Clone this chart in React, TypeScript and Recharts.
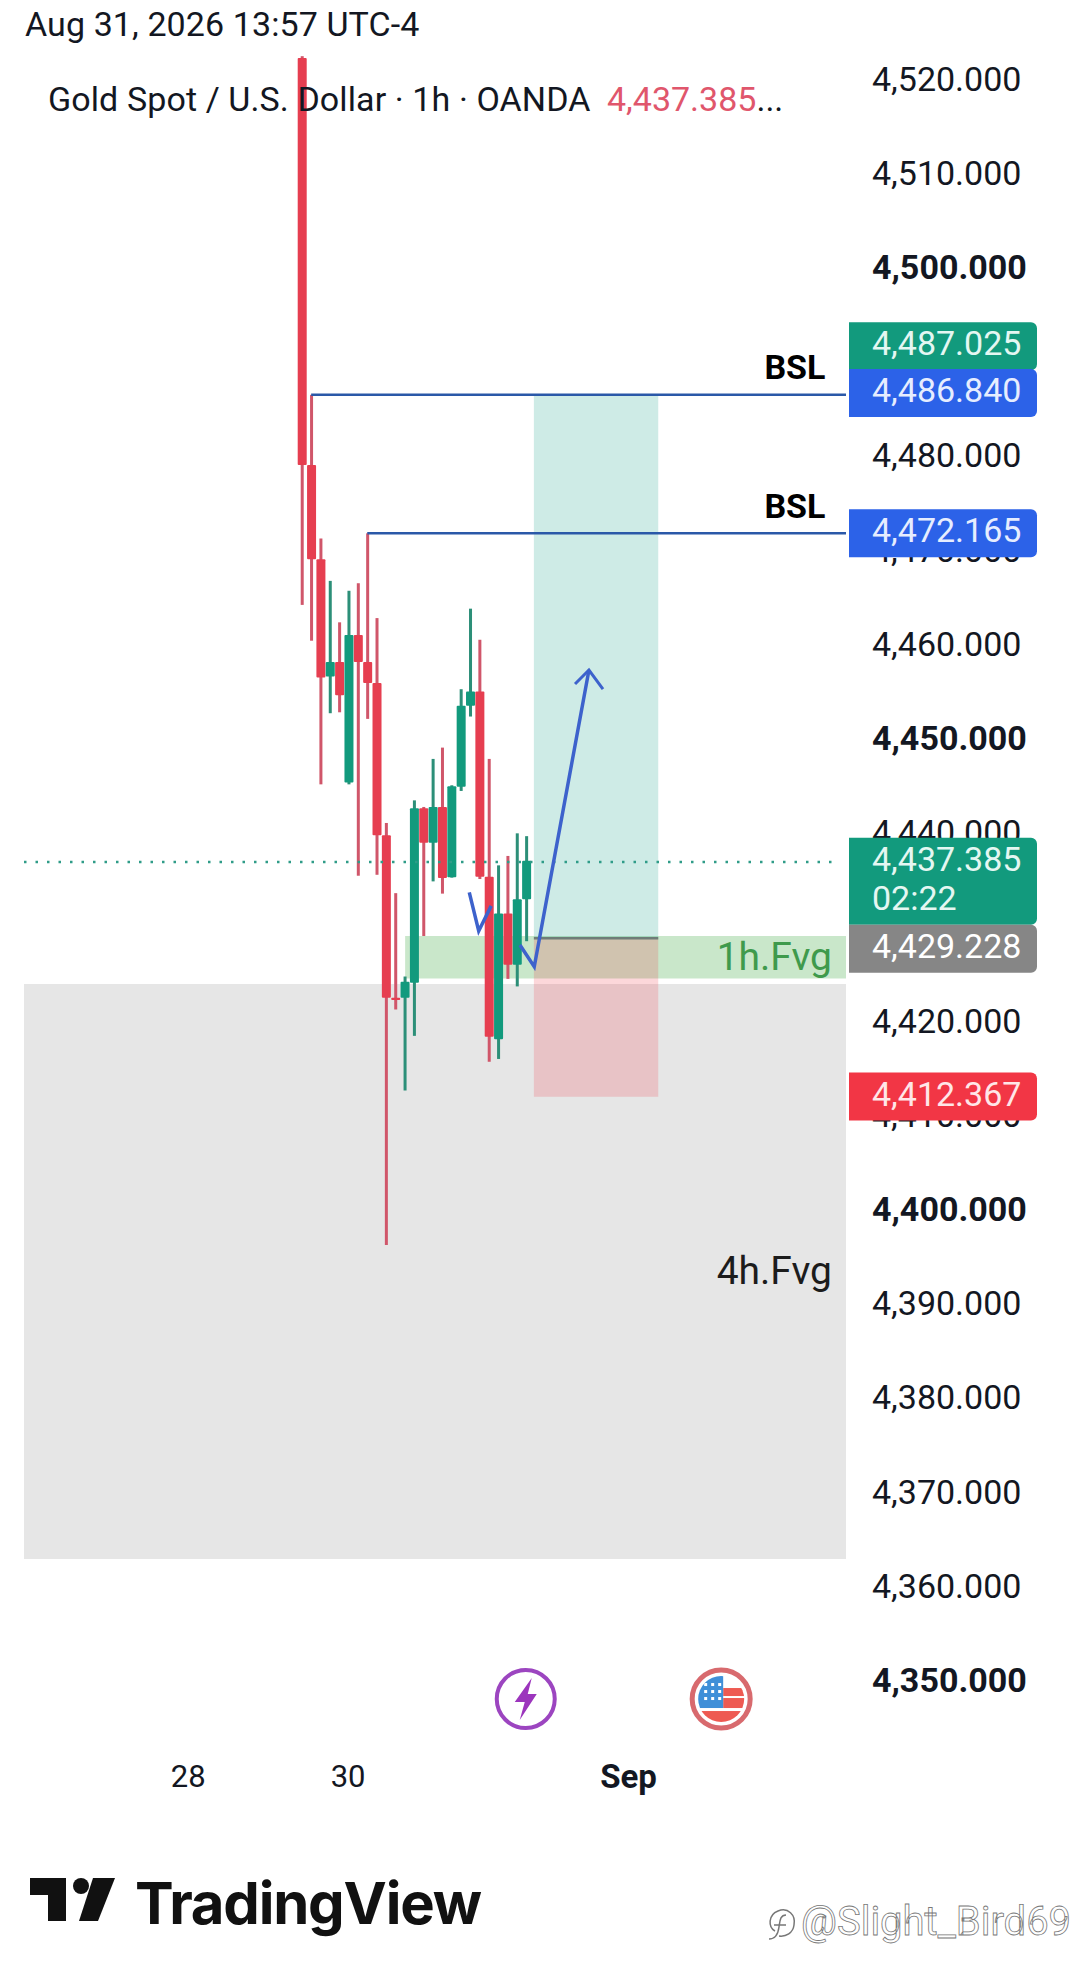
import { ComposedChart, Bar, Line, XAxis, YAxis, ReferenceArea, ReferenceLine, ReferenceDot } from 'recharts';

const candleOpen = [4522.5, 4479.3, 4469.3, 4456.85, 4458.4, 4445.6, 4461.25, 4458.4, 4456.15, 4440.0, 4422.75, 4422.75, 4424.35, 4442.85, 4439.2, 4443.0, 4435.55, 4445.15, 4453.75, 4455.25, 4435.6, 4418.35, 4431.7, 4426.25, 4433.2];
const candleHigh = [4522.7, 4486.75, 4471.5, 4467.0, 4462.6, 4465.95, 4466.75, 4472.05, 4463.05, 4441.3, 4433.85, 4425.0, 4443.7, 4443.0, 4448.1, 4449.3, 4445.3, 4455.5, 4464.05, 4460.75, 4448.1, 4436.8, 4437.8, 4440.2, 4439.9];
const candleLow = [4464.45, 4460.65, 4445.4, 4452.95, 4453.05, 4445.4, 4435.7, 4452.35, 4435.8, 4396.5, 4421.5, 4412.9, 4418.7, 4429.3, 4435.1, 4433.8, 4435.5, 4444.7, 4452.6, 4435.35, 4415.95, 4416.25, 4424.75, 4423.95, 4428.75];
const candleClose = [4479.3, 4469.3, 4456.75, 4458.4, 4454.85, 4461.25, 4458.4, 4456.15, 4440.0, 4422.75, 4422.5, 4424.45, 4442.85, 4439.2, 4443.0, 4435.45, 4445.2, 4453.75, 4455.25, 4435.6, 4418.6, 4431.7, 4426.25, 4433.2, 4437.3];

const priceTicks = [4350, 4360, 4370, 4380, 4390, 4400, 4410, 4420, 4440, 4450, 4460, 4470, 4480, 4500, 4510, 4520];
const boldPrices = [4350, 4400, 4450, 4500];
const dateTicks = [-12.2, 4.9, 34.9];
const dateLabels = ['28', '30', 'Sep'];

// the arrow runs behind the last candles, so it is two separate pieces
const arrowStart = [
  { i: 17.86, price: 4433.94 },
  { i: 18.87, price: 4429.83 },
  { i: 20.2, price: 4432.5 },
];
const arrowEnd = [
  { i: 23.28, price: 4428.34 },
  { i: 24.81, price: 4426.04 },
  { i: 30.66, price: 4457.54 },
];
const arrowHead = [
  { i: 29.17, price: 4456.05 },
  { i: 30.66, price: 4457.54 },
  { i: 32.16, price: 4455.52 },
];

const UP = '#129a7d';
const DOWN = '#e63e50';
const X_MIN = -29.76;
const X_MAX = 58.15;
const Y_DOMAIN = [4343.42, 4522.72];
const FONT = 'Roboto, sans-serif';

const chartData = candleOpen.map((open, i) => ({
  i,
  open,
  close: candleClose[i],
  range: [candleLow[i], candleHigh[i]],
}));

function Candle(props: any) {
  const { x, y, width, height, payload } = props;
  const [low, high] = payload.range;
  const perUnit = height / (high - low);
  const cx = x + width / 2;
  const up = payload.close >= payload.open;
  const top = y + (high - Math.max(payload.open, payload.close)) * perUnit;
  const bottom = y + (high - Math.min(payload.open, payload.close)) * perUnit;
  return (
    <g>
      <rect x={cx - 1.5} y={y} width={3} height={height} fill={up ? '#2c8f78' : '#d0566a'} />
      <rect x={cx - 4.5} y={top} width={9} height={Math.max(bottom - top, 2)} rx={1} fill={up ? UP : DOWN} />
    </g>
  );
}

function PriceTick(props: any) {
  const { y, payload } = props;
  const bold = boldPrices.includes(payload.value);
  return (
    <text x={872} y={y - 3} dominantBaseline="central" fontFamily={FONT} fontSize={34} fontWeight={bold ? 700 : 400} fill="#131722">
      {payload.value.toLocaleString('en-US', { minimumFractionDigits: 3 })}
    </text>
  );
}

function DateTick(props: any) {
  const { x, payload, index } = props;
  const bold = dateLabels[index] === 'Sep';
  return (
    <text x={x} y={1776} textAnchor="middle" dominantBaseline="central" fontFamily={FONT} fontSize={bold ? 33 : 31} fontWeight={bold ? 700 : 400} fill="#131722">
      {dateLabels[index] ?? payload.value}
    </text>
  );
}

const badge = (text: string, fill: string, top: number, h: number, sub?: string, color = '#e4f7f2') => (props: any) => {
  const { cy } = props;
  const y = cy + top;
  const x = 849;
  return (
    <g>
      <path d={`M${x} ${y}H1031a6 6 0 0 1 6 6V${y + h - 6}a6 6 0 0 1 -6 6H${x}Z`} fill={fill} />
      <text x={872} y={y + 21} dominantBaseline="central" fontFamily={FONT} fontSize={34} fill={color}>{text}</text>
      {sub && <text x={872} y={y + 60} dominantBaseline="central" fontFamily={FONT} fontSize={34} fill={color}>{sub}</text>}
    </g>
  );
};

function BoltIcon(props: any) {
  const { cx, cy } = props;
  return (
    <g>
      <circle cx={cx} cy={cy} r={29} fill="#fff" stroke="#9c45c0" strokeWidth={4} />
      <path d={`M${cx + 6} ${cy - 21}L${cx - 11} ${cy + 3}H${cx - 1}L${cx - 6} ${cy + 21}L${cx + 11} ${cy - 5}H${cx + 2}Z`} fill="#9c35bd" />
    </g>
  );
}

function FlagIcon(props: any) {
  const { cx, cy } = props;
  return (
    <g>
      <clipPath id="flagClip"><circle cx={cx} cy={cy} r={23} /></clipPath>
      <circle cx={cx} cy={cy} r={29} fill="#fff" stroke="#d86a6e" strokeWidth={5} />
      <g clipPath="url(#flagClip)">
        <rect x={cx - 24} y={cy - 24} width={48} height={48} fill="#fff" />
        <rect x={cx + 2} y={cy - 11} width={24} height={8} fill="#ee5a52" />
        <rect x={cx + 2} y={cy - 1} width={24} height={10} fill="#ee5a52" />
        <rect x={cx - 24} y={cy + 12} width={48} height={14} fill="#ee5a52" />
        <rect x={cx - 24} y={cy - 24} width={26} height={33} fill="#3f8fd8" />
        {[-14, -7, 0].map(dy => [-17, -10, -3].map(dx => (
          <rect key={`${dx}${dy}`} x={cx + dx} y={cy + dy - 2} width={3} height={3} fill="#fff" />
        )))}
      </g>
    </g>
  );
}

const textLabel = (text: string, fill: string, weight = 400, size = 33) => (props: any) => (
  <text x={props.cx} y={props.cy} textAnchor="end" dominantBaseline="central" fontFamily={FONT} fontSize={size} fontWeight={weight} fill={fill}>{text}</text>
);

export default function App() {
  return (
    <div style={{ position: 'absolute', left: 0, top: 0, width: 1077, height: 1983, background: '#fff', overflow: 'hidden', fontFamily: FONT }}>
      <ComposedChart
        width={1077}
        height={1983}
        data={chartData}
        margin={{ top: 56, right: 0, bottom: 168, left: 24 }}
      >
        <XAxis
          dataKey="i"
          type="number"
          domain={[X_MIN, X_MAX]}
          allowDataOverflow
          ticks={dateTicks}
          interval={0}
          height={70}
          axisLine={false}
          tickLine={false}
          tick={<DateTick />}
        />
        <YAxis
          orientation="right"
          width={231}
          domain={Y_DOMAIN}
          allowDataOverflow
          ticks={priceTicks}
          interval={0}
          axisLine={false}
          tickLine={false}
          tick={<PriceTick />}
        />

        <ReferenceArea x1={X_MIN} x2={X_MAX} y1={4363.16} y2={4424.2} fill="#e6e6e6" fillOpacity={1} stroke="none" />
        <ReferenceArea x1={11} x2={X_MAX} y1={4424.8} y2={4429.3} fill="#4caf50" fillOpacity={0.3} stroke="none" />
        <ReferenceArea x1={24.77} x2={38.07} y1={4429.06} y2={4486.8} fill="#089981" fillOpacity={0.2} stroke="none" />
        <ReferenceArea x1={24.77} x2={38.07} y1={4412.24} y2={4429.06} fill="#f23645" fillOpacity={0.2} stroke="none" />
        <ReferenceLine segment={[{ x: 24.77, y: 4429.06 }, { x: 38.07, y: 4429.06 }]} stroke="#6f7d78" strokeWidth={2.5} />

        <ReferenceLine segment={[{ x: X_MIN, y: 4437.15 }, { x: 57.5, y: 4437.15 }]} stroke="#2f9c88" strokeWidth={2.5} strokeDasharray="2.5 9" />
        <ReferenceLine segment={[{ x: 0.95, y: 4486.75 }, { x: X_MAX, y: 4486.75 }]} stroke="#2a58a8" strokeWidth={2.5} />
        <ReferenceLine segment={[{ x: 6.95, y: 4472.05 }, { x: X_MAX, y: 4472.05 }]} stroke="#2a58a8" strokeWidth={2.5} />

        <Line data={arrowStart} dataKey="price" stroke="#3d62cc" strokeWidth={3.5} dot={false} legendType="none" isAnimationActive={false} />
        <Line data={arrowEnd} dataKey="price" stroke="#3d62cc" strokeWidth={3.5} dot={false} legendType="none" isAnimationActive={false} />
        <Line data={arrowHead} dataKey="price" stroke="#3d62cc" strokeWidth={3} dot={false} legendType="none" isAnimationActive={false} />
        <Bar dataKey="range" barSize={10} shape={<Candle />} isAnimationActive={false} />

        <ReferenceDot x={X_MAX - 2.2} y={4489.7} r={0} shape={textLabel('BSL', '#000', 700, 34)} />
        <ReferenceDot x={X_MAX - 2.2} y={4474.9} r={0} shape={textLabel('BSL', '#000', 700, 34)} />
        <ReferenceDot x={X_MAX - 1.5} y={4427.1} r={0} shape={textLabel('1h.Fvg', '#3f9a4c', 400, 39)} />
        <ReferenceDot x={X_MAX - 1.5} y={4393.7} r={0} shape={textLabel('4h.Fvg', '#1c1c1c', 400, 39)} />

        <ReferenceDot x={23.9} y={4348.3} r={0} shape={<BoltIcon />} />
        <ReferenceDot x={44.8} y={4348.3} r={0} shape={<FlagIcon />} />
      </ComposedChart>

      {/* price badges sit on top of the axis labels, so they get their own layer with the same scales */}
      <div style={{ position: 'absolute', left: 0, top: 0, pointerEvents: 'none' }}>
        <ComposedChart
          width={1077}
          height={1983}
          data={chartData}
          margin={{ top: 56, right: 231, bottom: 238, left: 24 }}
        >
          <XAxis dataKey="i" type="number" domain={[X_MIN, X_MAX]} allowDataOverflow hide />
          <YAxis domain={Y_DOMAIN} allowDataOverflow hide />
          <ReferenceDot x={X_MAX} y={4487.025} r={0} shape={badge('4,487.025', '#129a7d', -70, 48)} />
          <ReferenceDot x={X_MAX} y={4486.84} r={0} shape={badge('4,486.840', '#2c62e8', -25, 48, undefined, '#e6edff')} />
          <ReferenceDot x={X_MAX} y={4472.165} r={0} shape={badge('4,472.165', '#2c62e8', -23, 48, undefined, '#e6edff')} />
          <ReferenceDot x={X_MAX} y={4437.385} r={0} shape={badge('4,437.385', '#129a7d', -22, 87, '02:22')} />
          <ReferenceDot x={X_MAX} y={4429.228} r={0} shape={badge('4,429.228', '#868686', -12, 48, undefined, '#fff')} />
          <ReferenceDot x={X_MAX} y={4412.367} r={0} shape={badge('4,412.367', '#f23645', -23, 48, undefined, '#ffe6e8')} />
        </ComposedChart>
      </div>

      <div style={{ position: 'absolute', left: 25, top: 5, fontSize: 34, lineHeight: '38px', letterSpacing: 0.1, color: '#131722', whiteSpace: 'nowrap' }}>
        Aug 31, 2026 13:57 UTC-4
      </div>
      <div style={{ position: 'absolute', left: 48, top: 80, fontSize: 34, lineHeight: '38px', letterSpacing: 0.1, color: '#131722', whiteSpace: 'nowrap' }}>
        Gold Spot / U.S. Dollar · 1h · OANDA
      </div>
      <div style={{ position: 'absolute', left: 607, top: 80, fontSize: 34, lineHeight: '38px', color: '#e0566c', whiteSpace: 'nowrap' }}>
        4,437.385<span style={{ color: '#131722' }}>...</span>
      </div>

      <svg width={100} height={60} style={{ position: 'absolute', left: 24, top: 1870 }}>
        <path d="M6 8H42V51H24V25H6Z" fill="#111" />
        <circle cx={57} cy={16} r={8} fill="#111" />
        <path d="M69 8H91L74 51H55Z" fill="#111" />
      </svg>
      <div style={{ position: 'absolute', left: 135, top: 1868, fontFamily: 'Inter, sans-serif', fontSize: 58, lineHeight: '70px', fontWeight: 700, letterSpacing: -1.2, color: '#111', whiteSpace: 'nowrap' }}>
        TradingView
      </div>
      <svg width={40} height={44} style={{ position: 'absolute', left: 762, top: 1903 }}>
        <path d="M13 28C6 24 6 12 16 8C26 4 34 12 32 22C31 30 24 34 17 33" fill="none" stroke="#777" strokeWidth={1.5} />
        <path d="M24 12C18 12 18 18 17 24C16 32 12 36 7 36M12 22H24" fill="none" stroke="#777" strokeWidth={1.5} />
      </svg>
      <div style={{ position: 'absolute', left: 801, top: 1899, fontSize: 40, lineHeight: '46px', color: '#fff', WebkitTextStroke: '0.8px #777', whiteSpace: 'nowrap' }}>
        @Slight_Bird69
      </div>
    </div>
  );
}
